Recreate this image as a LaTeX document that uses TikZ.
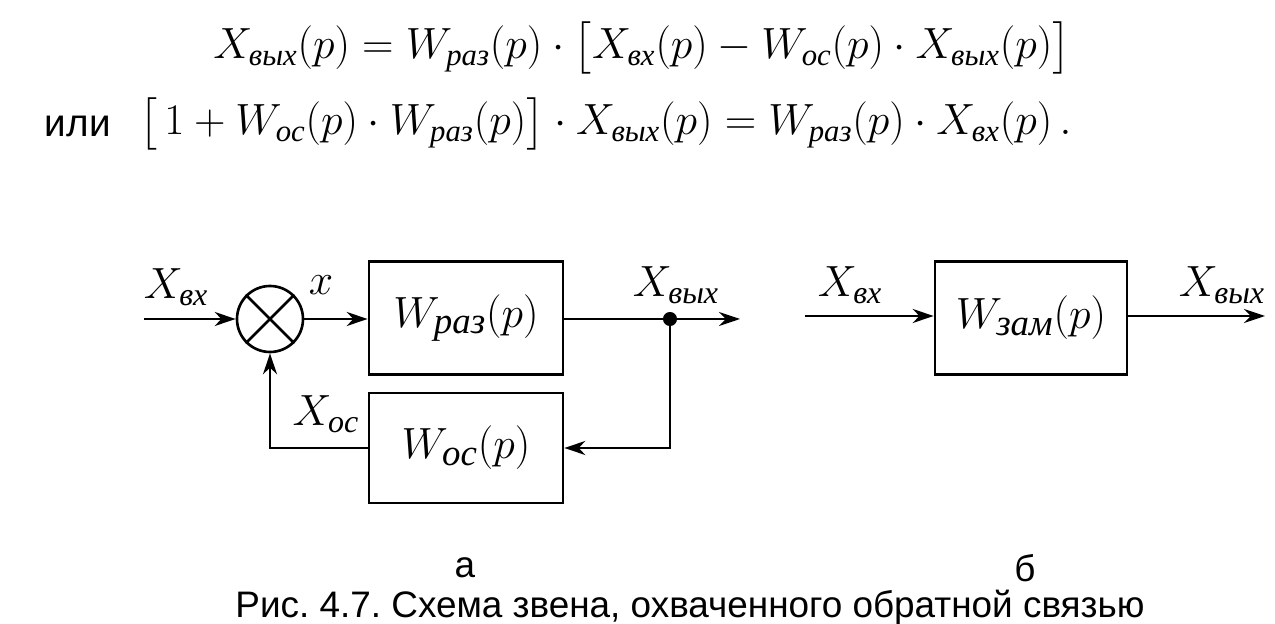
\documentclass[tikz,border=0pt]{standalone}
\usepackage{amsmath}
\usepackage{fontspec}
\setmainfont{Liberation Serif}
\newfontfamily\capfont{Liberation Sans}
\newfontfamily\subfont{Liberation Serif}
\usepackage{tikz}
\usetikzlibrary{arrows.meta}
\newcommand{\cyr}[1]{\text{\subfont\itshape #1}}
\frenchspacing

\begin{document}
\begin{tikzpicture}[x=0.02cm,y=-0.02cm,line width=1.3pt,
    blockbox/.style={draw,line width=1.5pt},
    sig/.style={-{Stealth[length=12pt,width=8pt]}}]

        \useasboundingbox (0,0) rectangle (1275,624);

        % Equations
        \node[font=\fontsize{25}{30}\selectfont] (eqa) at (642,48)
            {$X_{\cyr{вых}}(p)=W_{\cyr{раз}}(p)\cdot\bigl[X_{\cyr{вх}}(p)-W_{\cyr{ос}}(p)\cdot X_{\cyr{вых}}(p)\bigr]$};
        \node[font=\fontsize{25}{30}\selectfont,anchor=west] (eqb) at (132,124)
            {$\bigl[\,1+W_{\cyr{ос}}(p)\cdot W_{\cyr{раз}}(p)\bigr]\cdot X_{\cyr{вых}}(p)=W_{\cyr{раз}}(p)\cdot X_{\cyr{вх}}(p)\,.$};
        \node[font=\capfont\fontsize{22}{26}\selectfont,anchor=west] (ili) at (38,126) {или};

        % Scheme a
        \coordinate (ina) at (144,319);
        \node[draw,circle,minimum size=66*0.02cm,inner sep=0pt,line width=1.5pt] (sum) at (270,319) {};
        \draw[line width=1.5pt] (sum.north west) -- (sum.south east) (sum.north east) -- (sum.south west);
        \node[blockbox,minimum width=194*0.02cm,minimum height=113*0.02cm] (wraz) at (466,318)
            {\fontsize{30}{34}\selectfont$W_{\cyr{раз}}(p)$};
        \node[blockbox,minimum width=194*0.02cm,minimum height=110*0.02cm] (wos) at (466,448)
            {\fontsize{30}{34}\selectfont$W_{\cyr{ос}}(p)$};
        \coordinate (branch) at (670,319);
        \coordinate (outa) at (740,319);

        \draw[sig] (ina) -- (sum.west);
        \draw[sig] (sum.east) -- (wraz.west |- sum.east);
        \draw[sig] (wraz.east |- branch) -- (outa);
        \fill (branch) circle (4pt);
        \draw[sig] (branch) |- (wos.east);
        \draw[sig] (wos.west) -| (sum.south);

        \node[font=\fontsize{26}{30}\selectfont] (lxin) at (176,287) {$X_{\cyr{вх}}$};
        \node[font=\fontsize{26}{30}\selectfont] (lx) at (321,285) {$x$};
        \node[font=\fontsize{26}{30}\selectfont] (lxout) at (676,285) {$X_{\cyr{вых}}$};
        \node[font=\fontsize{26}{30}\selectfont] (lxos) at (326,414) {$X_{\cyr{ос}}$};

        % Scheme b
        \coordinate (inb) at (805,316);
        \node[blockbox,minimum width=192*0.02cm,minimum height=113*0.02cm] (wzam) at (1031,318)
            {\fontsize{30}{34}\selectfont$W_{\cyr{зам}}(p)$};
        \coordinate (outb) at (1265,316);
        \draw[sig] (inb) -- (wzam.west |- inb);
        \draw[sig] (wzam.east |- outb) -- (outb);
        \node[font=\fontsize{26}{30}\selectfont] (lxinb) at (850,285) {$X_{\cyr{вх}}$};
        \node[font=\fontsize{26}{30}\selectfont] (lxoutb) at (1222,285) {$X_{\cyr{вых}}$};

        % Labels and caption
        \node[font=\capfont\fontsize{21}{25}\selectfont] (la) at (465,568) {а};
        \node[font=\capfont\fontsize{21}{25}\selectfont] (lb) at (1025,568) {б};
        \node[font=\capfont\fontsize{21}{25}\selectfont] (cap) at (690,608) {Рис. 4.7. Схема звена, охваченного обратной связью};

    \end{tikzpicture}
\end{document}
